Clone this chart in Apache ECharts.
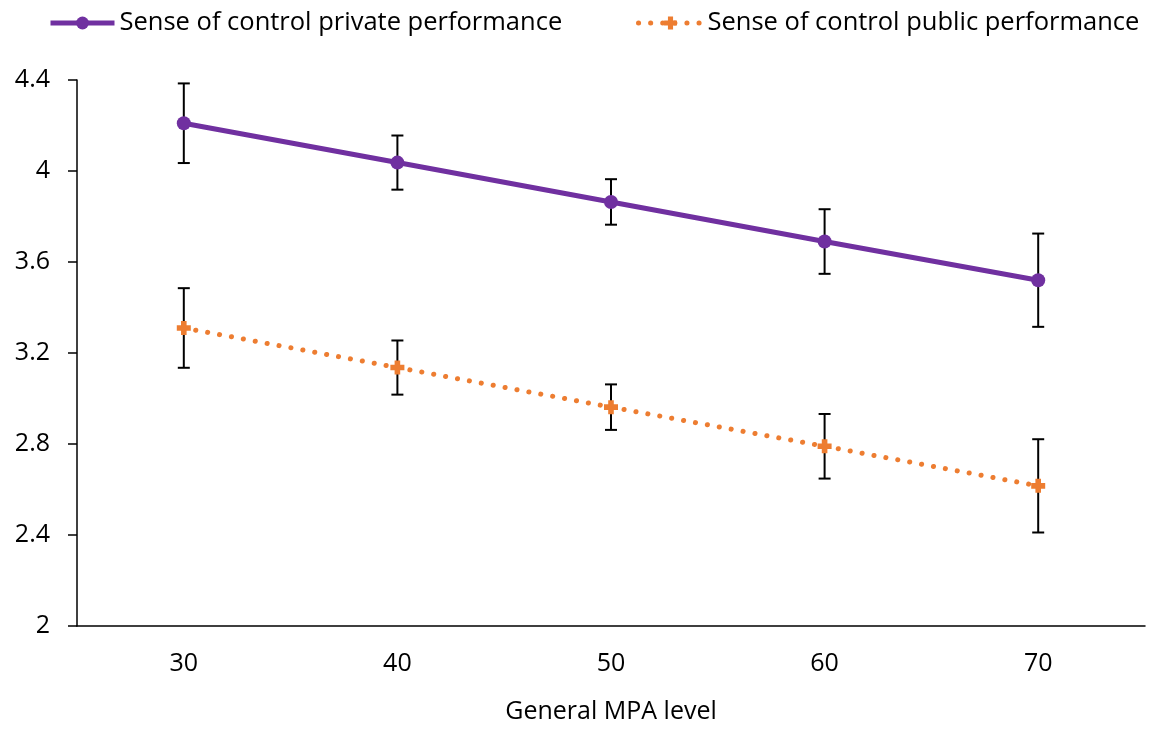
<!DOCTYPE html>
<html>
<head>
<meta charset="utf-8">
<script src="https://cdn.jsdelivr.net/npm/echarts@6/dist/echarts.min.js"></script>
<style>
  html, body { margin: 0; padding: 0; background: #fff; }
  #chart { width: 1151px; height: 729px; }
</style>
</head>
<body>
<div id="chart"></div>
<script>
// MPA levels on the x axis
const mpaLevels = ['30', '40', '50', '60', '70'];

// Mean sense of control per level
const privateMeans = [4.21, 4.037, 3.864, 3.69, 3.52];
const publicMeans = [3.31, 3.136, 2.962, 2.79, 2.616];

// Half-widths of the error bars
const privateErr = [0.175, 0.119, 0.1, 0.142, 0.205];
const publicErr = [0.175, 0.119, 0.1, 0.142, 0.205];

const PRIVATE_NAME = 'Sense of control private performance';
const PUBLIC_NAME = 'Sense of control public performance';

const FONT = '"Open Sans", "Noto Sans", sans-serif';
const plusSymbol = 'path://M3,0 H7 V3 H10 V7 H7 V10 H3 V7 H0 V3 H3 Z';

function errData(means, errs) {
  return means.map((m, i) => [i, m - errs[i], m + errs[i]]);
}

function errRender(params, api) {
  const x = api.value(0);
  const lo = api.coord([x, api.value(1)]);
  const hi = api.coord([x, api.value(2)]);
  const cap = 6;
  const style = { stroke: '#000', lineWidth: 2 };
  return {
    type: 'group',
    children: [
      { type: 'line', shape: { x1: hi[0], y1: hi[1], x2: lo[0], y2: lo[1] }, style },
      { type: 'line', shape: { x1: hi[0] - cap, y1: hi[1], x2: hi[0] + cap, y2: hi[1] }, style },
      { type: 'line', shape: { x1: lo[0] - cap, y1: lo[1], x2: lo[0] + cap, y2: lo[1] }, style }
    ]
  };
}

function legendFor(name, color, left) {
  return {
    top: 5,
    left: left,
    width: 600,
    itemWidth: 64,
    itemHeight: 16,
    textStyle: { fontSize: 25.5, color: '#000', fontFamily: FONT },
    data: [{ name: name, lineStyle: { width: 5 }, itemStyle: { color: color } }]
  };
}

const chart = echarts.init(document.getElementById('chart'), null, { renderer: 'canvas' });

chart.setOption({
  animation: false,
  backgroundColor: '#fff',
  textStyle: { fontFamily: FONT },
  legend: [
    legendFor(PRIVATE_NAME, '#7030A0', 43),
    legendFor(PUBLIC_NAME, '#ED7D31', 631)
  ],
  grid: { left: 77, right: 6, top: 80, bottom: 99, containLabel: false },
  xAxis: {
    type: 'category',
    data: mpaLevels,
    boundaryGap: true,
    name: 'General MPA level',
    nameLocation: 'middle',
    nameGap: 73,
    nameTextStyle: { fontSize: 25, color: '#000', fontFamily: FONT },
    axisLine: { lineStyle: { color: '#000', width: 1.5 } },
    axisTick: { alignWithLabel: true, length: 7, lineStyle: { color: '#000', width: 1.5 } },
    axisLabel: { fontSize: 25, color: '#000', margin: 25, fontFamily: FONT },
    splitLine: { show: false }
  },
  yAxis: {
    type: 'value',
    min: 2,
    max: 4.4,
    interval: 0.4,
    axisLine: { show: true, lineStyle: { color: '#000', width: 1.5 } },
    axisTick: { show: true, length: 9, lineStyle: { color: '#000', width: 1.5 } },
    axisLabel: { fontSize: 25, color: '#000', margin: 27, fontFamily: FONT },
    splitLine: { show: false }
  },
  series: [
    {
      name: PRIVATE_NAME,
      type: 'line',
      data: privateMeans,
      symbol: 'circle',
      symbolSize: 14,
      itemStyle: { color: '#7030A0' },
      lineStyle: { color: '#7030A0', width: 5 },
      z: 3
    },
    {
      name: PUBLIC_NAME,
      type: 'line',
      data: publicMeans,
      symbol: plusSymbol,
      symbolSize: 14,
      itemStyle: { color: '#ED7D31' },
      lineStyle: { color: '#ED7D31', width: 5, type: [0.1, 12], cap: 'round' },
      z: 3
    },
    {
      type: 'custom',
      renderItem: errRender,
      data: errData(privateMeans, privateErr),
      z: 2,
      silent: true
    },
    {
      type: 'custom',
      renderItem: errRender,
      data: errData(publicMeans, publicErr),
      z: 2,
      silent: true
    }
  ]
});
</script>
</body>
</html>
